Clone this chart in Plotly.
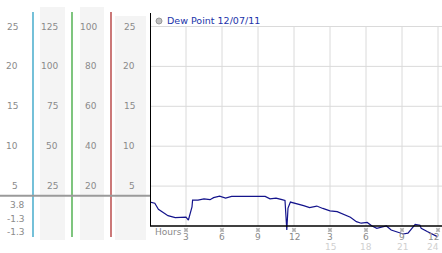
import plotly.graph_objects as go

# ---------------- data ----------------
hours = [0, 0.4, 0.7, 1.1, 1.5, 2.1, 2.6, 3.0, 3.2, 3.5, 3.55, 4.0, 4.5, 5.0, 5.3, 5.8, 6.3,
         6.8, 7.5, 8.5, 9.6, 10.0, 10.5, 11.0, 11.25, 11.4, 11.5, 11.7, 12.1, 12.8, 13.3,
         13.9, 14.4, 15.0, 15.6, 16.1, 16.7, 17.2, 17.6, 18.1, 18.5, 18.9, 19.4, 19.7, 20.1,
         20.7, 21.1, 21.5, 21.8, 22.1, 22.5, 22.6, 23.1, 23.5, 23.9]
dew_point = [3.0, 2.85, 2.1, 1.7, 1.3, 1.05, 1.1, 1.1, 0.75, 2.4, 3.25, 3.25, 3.4, 3.3, 3.55,
             3.75, 3.5, 3.7, 3.7, 3.7, 3.7, 3.4, 3.5, 3.3, 3.2, -0.5, 2.25, 3.0, 2.85, 2.55,
             2.3, 2.5, 2.2, 1.9, 1.8, 1.45, 1.1, 0.55, 0.35, 0.45, 0.0, -0.3, -0.15, 0.0,
             -0.5, -0.85, -1.0, -0.9, -0.3, 0.2, 0.1, -0.3, -0.7, -1.0, -1.3]
series_name = "Dew Point 12/07/11"

x_ticks = [3, 6, 9, 12, 15, 18, 21, 24]
x_tick_top = ["3", "6", "9", "12", "3", "6", "9", "12"]
x_tick_bottom = ["", "", "", "", "15", "18", "21", "24"]
y_ticks = [25, 20, 15, 10, 5]
col2_labels = [125, 100, 75, 50, 25]   # 5x scale
col3_labels = [100, 80, 60, 40, 20]    # 4x scale
current_value = 3.8
summary_labels = ["3.8", "-1.3", "-1.3"]

# ---------------- layout helpers ----------------
W, H = 442, 253
def px(x):
    return x / W
def py(y):
    return 1 - y / H

Y0_PX, PPU = 226.0, 7.98
Y_MIN, Y_MAX = -1.6, (Y0_PX - 13) / PPU
def ypix_to_val(y):
    return (Y0_PX - y) / PPU

X_MAX = (442 - 150) / 12.0
FONT = "DejaVu Sans"
GRAY = "#8a8a8a"

fig = go.Figure()
fig.add_trace(go.Scatter(x=hours, y=dew_point, mode="lines",
                         line=dict(color="#14148c", width=1.2), hoverinfo="skip",
                         showlegend=False))

# tick "※"-like marks
fig.add_trace(go.Scatter(x=x_ticks, y=[ypix_to_val(230)] * len(x_ticks), mode="markers",
                         marker=dict(symbol="x", size=4, color="#b0b0b0", line=dict(width=0)),
                         cliponaxis=False, showlegend=False, hoverinfo="skip"))
fig.add_trace(go.Scatter(x=[-4 / 12.0] * len(y_ticks), y=y_ticks, mode="markers",
                         marker=dict(symbol="x", size=4, color="#b0b0b0", line=dict(width=0)),
                         cliponaxis=False, showlegend=False, hoverinfo="skip"))

shapes = []
# left panel column backgrounds
for x0, x1, y0 in [(40, 65, 7), (80, 104, 7), (115, 146, 16)]:
    shapes.append(dict(type="rect", xref="paper", yref="paper", x0=px(x0), x1=px(x1),
                       y0=py(240), y1=py(y0), fillcolor="#f4f4f4", line=dict(width=0),
                       layer="below"))
# left panel coloured verticals
for xx, col in [(33, "#2a9fc4"), (72, "#3aa63a"), (111, "#b03030")]:
    shapes.append(dict(type="line", xref="paper", yref="paper", x0=px(xx), x1=px(xx),
                       y0=py(237), y1=py(12), line=dict(color=col, width=1.3)))
# grid lines
for t in y_ticks:
    shapes.append(dict(type="line", xref="x", yref="y", x0=0, x1=X_MAX, y0=t, y1=t,
                       line=dict(color="#dadada", width=1), layer="below"))
for t in x_ticks:
    shapes.append(dict(type="line", xref="x", yref="y", x0=t, x1=t, y0=0, y1=max(y_ticks),
                       line=dict(color="#dadada", width=1), layer="below"))
# current value gray line across left panel
shapes.append(dict(type="line", xref="paper", yref="y", x0=0, x1=px(150),
                   y0=current_value, y1=current_value, line=dict(color="#9a9a9a", width=2)))
# axes lines
shapes.append(dict(type="line", xref="x", yref="y", x0=0, x1=X_MAX, y0=0, y1=0,
                   line=dict(color="#000000", width=1.5)))
shapes.append(dict(type="line", xref="x", yref="paper", x0=0, x1=0, y0=py(226), y1=py(13),
                   line=dict(color="#000000", width=2)))
# legend dot
shapes.append(dict(type="circle", xref="paper", yref="paper", x0=px(156), x1=px(162),
                   y0=py(24), y1=py(18), fillcolor="#c0c0c0", line=dict(color="#999", width=1)))

ann = []
def label(x, y, text, xref="paper", yref="y", color=GRAY, xanchor="right", size=9):
    ann.append(dict(x=x, y=y, xref=xref, yref=yref, text=text, showarrow=False,
                    xanchor=xanchor, yanchor="middle", font=dict(family=FONT, size=size, color=color)))

for t in y_ticks:
    label(px(20), t, str(t))
    label(px(137), t, str(t))
for v in col2_labels:
    label(px(60), v / 5.0, str(v))
for v in col3_labels:
    label(px(99), v / 4.0, str(v))
for i, s in enumerate(summary_labels):
    label(px(27), py(205 + i * 13.5), s, yref="paper")
for i, (t, a, b) in enumerate(zip(x_ticks, x_tick_top, x_tick_bottom)):
    last = i == len(x_ticks) - 1
    xa = "right" if last else "center"
    xx = px(441) if last else t
    xr = "paper" if last else "x"
    label(xx, py(237), a, xref=xr, yref="paper", xanchor=xa)
    if b:
        label(xx, py(246.5), b, xref=xr, yref="paper", xanchor=xa, color="#d0d0d0")
label(px(153), py(232), "Hours", yref="paper", xanchor="left")
label(px(165), py(21), series_name, yref="paper", color="#2233aa", xanchor="left", size=9.5)

fig.update_layout(
    width=W, height=H, margin=dict(l=0, r=0, t=0, b=0),
    paper_bgcolor="white", plot_bgcolor="rgba(0,0,0,0)",
    showlegend=False, shapes=shapes, annotations=ann,
    xaxis=dict(domain=[px(150), 1], range=[0, X_MAX], visible=False, fixedrange=True),
    yaxis=dict(domain=[py(Y0_PX + (-Y_MIN) * PPU), py(13)], range=[Y_MIN, Y_MAX],
               visible=False, fixedrange=True),
)
fig.write_html("out.html")
